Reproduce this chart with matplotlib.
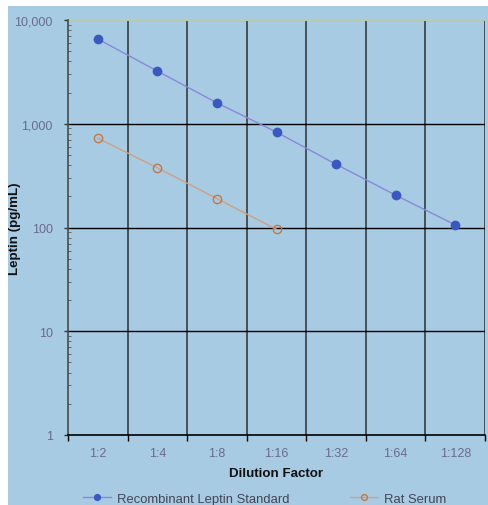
import matplotlib
matplotlib.use("Agg")
import matplotlib.pyplot as plt
from matplotlib.patches import Rectangle
from matplotlib.ticker import FixedLocator, LogLocator, NullFormatter

plt.rcParams['font.family'] = ['Liberation Sans', 'DejaVu Sans']

categories = ["1:2", "1:4", "1:8", "1:16", "1:32", "1:64", "1:128"]
standard = [6560, 3220, 1590, 830, 407, 205, 106]
rat_serum = [726, 376, 190, 96]
y_ticks = [1, 10, 100, 1000, 10000]
y_labels = ["1", "10", "100", "1,000", "10,000"]

W, H = 488, 506
fig = plt.figure(figsize=(W / 100, H / 100), dpi=100, facecolor="white")
bg = "#a8cbe4"
fig.patches.append(Rectangle((8 / W, 0), 1 - 8 / W, 1 - 7 / H, transform=fig.transFigure,
                             facecolor=bg, edgecolor="none", zorder=-10))

ax = fig.add_axes([68 / W, 1 - 436 / H, (485 - 68) / W, (436 - 21) / H])
ax.set_facecolor(bg)
ax.set_zorder(2)
x = list(range(len(categories)))

ax.set_yscale("log")
ax.set_ylim(1, 10000)
ax.set_xlim(-0.5, len(categories) - 0.5)

# grid
for b in [i + 0.5 for i in range(len(categories))]:
    ax.axvline(b, color="#3e4848", lw=1.3, zorder=1)
for yv in y_ticks[1:-1]:
    ax.axhline(yv, color="black", lw=1.0, zorder=1)
ax.axhline(10000, color="#b8c8a8", lw=0.8, zorder=1)

ax.plot(x, standard, color="#8a86dc", lw=1.0, marker="o", ms=6,
        mfc="#3a58c0", mec="#3a58c0", zorder=3, label="Recombinant Leptin Standard")
ax.plot(x[:len(rat_serum)], rat_serum, color="#d0a080", lw=1.0, marker="o", ms=6,
        mfc="none", mec="#c07848", mew=1.0, zorder=3, label="Rat Serum")

ax.yaxis.set_major_locator(FixedLocator(y_ticks))
ax.set_yticklabels(y_labels)
ax.yaxis.set_minor_locator(LogLocator(base=10, subs=range(2, 10)))
ax.yaxis.set_minor_formatter(NullFormatter())
ax.tick_params(axis="y", which="major", length=3, width=1, color="#333333", pad=8,
               labelsize=9, labelcolor="#6a6a8c")
ax.tick_params(axis="y", which="minor", length=2, width=0.6, color="#555555", direction="in")

ax.set_xticks(x)
ax.set_xticklabels(categories)
ax.set_xticks([i + 0.5 for i in range(-1, len(categories))], minor=True)
ax.tick_params(axis="x", which="major", length=0, pad=9, labelsize=9, labelcolor="#6a6a8c")
ax.tick_params(axis="x", which="minor", length=4, width=1, color="black")

for s in ["top", "right"]:
    ax.spines[s].set_visible(False)
ax.spines["left"].set_color("#4a4a4a")
ax.spines["left"].set_linewidth(1.2)
ax.spines["bottom"].set_color("black")
ax.spines["bottom"].set_linewidth(1.2)

ax.set_xlabel("Dilution Factor", fontsize=9.6, fontweight="bold", color="#111111")
ax.set_ylabel("Leptin (pg/mL)", fontsize=9.6, fontweight="bold", color="#111111")
ax.yaxis.set_label_coords(-47 / 417, 0.5)
ax.xaxis.set_label_coords(0.5, -32 / 415)

handles, labels = ax.get_legend_handles_labels()
leg = fig.legend(handles, labels, loc="center left", bbox_to_anchor=(78 / W, 1 - 500 / H),
                 ncol=2, frameon=False, fontsize=9.4, handlelength=2.15, handletextpad=0.4,
                 columnspacing=4.7, borderaxespad=0, markerscale=0.7)
for t in leg.get_texts():
    t.set_color("#444455")

fig.savefig("out.png", dpi=100, facecolor="white")
